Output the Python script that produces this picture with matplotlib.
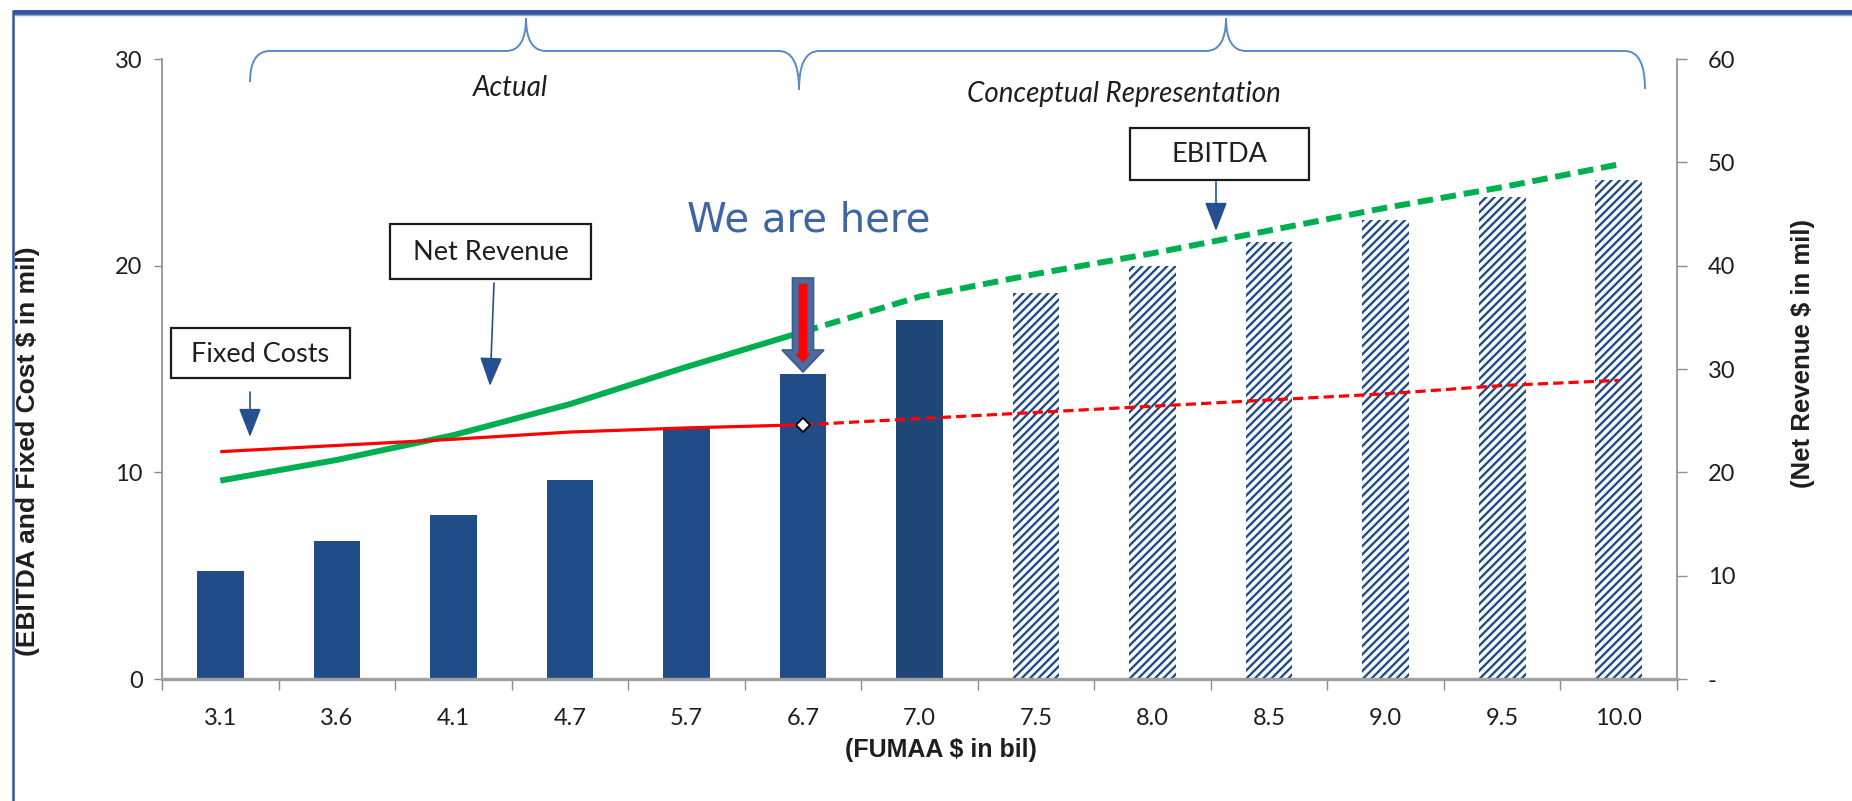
import numpy as np
import matplotlib
matplotlib.use("Agg")
import matplotlib.pyplot as plt
from matplotlib.path import Path
from matplotlib.patches import PathPatch, Rectangle, FancyArrow

# ---------------- data ----------------
categories = ["3.1", "3.6", "4.1", "4.7", "5.7", "6.7", "7.0",
              "7.5", "8.0", "8.5", "9.0", "9.5", "10.0"]
net_revenue = [10.5, 13.4, 15.9, 19.3, 24.4, 29.5, 34.7,
               37.4, 40.0, 42.3, 44.4, 46.6, 48.3]          # right axis (bars)
ebitda = [9.6, 10.6, 11.8, 13.3, 15.1, 16.8, 18.5,
          19.6, 20.6, 21.7, 22.8, 23.8, 24.9]                 # left axis (green)
fixed_costs = [11.0, 11.3, 11.6, 11.95, 12.15, 12.3, 12.6,
               12.9, 13.2, 13.5, 13.8, 14.2, 14.45]           # left axis (red)
left_ticks = [0, 10, 20, 30]
right_ticks = [0, 10, 20, 30, 40, 50, 60]
right_ticklabels = ["-", "10", "20", "30", "40", "50", "60"]
n_actual = 6          # first six categories are actual
here_idx = 5          # "We are here" at 6.7

W, H = 1852, 801
fig = plt.figure(figsize=(W / 100, H / 100), dpi=100)

BAR = "#204C88"
BAR_DARK = "#1F4878"
GREEN = "#00B050"
RED = "#FF0000"
GRAYAX = "#8C8C8C"
TXT = "#1E1E1E"
FONT = ["Lato", "DejaVu Sans"]
BOLD = ["Liberation Sans", "DejaVu Sans"]
TICKSIZE = 17

def fx(px):
    return px / W

def fy(py):
    return 1 - py / H

ax = fig.add_axes([fx(162), fy(679), (1677 - 162) / W, (679 - 59) / H])
ax2 = ax.twinx()
ax.set_zorder(ax2.get_zorder() + 1)
ax.patch.set_visible(False)

x = np.arange(len(categories))

# bars (net revenue, right axis)
bar_colors = [BAR] * n_actual + [BAR_DARK]
ax2.bar(x[:n_actual + 1], net_revenue[:n_actual + 1], width=0.4,
        color=bar_colors, linewidth=0)
plt.rcParams["hatch.linewidth"] = 1.7
ax2.bar(x[n_actual + 1:], net_revenue[n_actual + 1:], width=0.4,
        color="white", edgecolor=BAR, hatch="////", linewidth=0)

# lines (left axis)
ax.plot(x[:here_idx + 1], ebitda[:here_idx + 1], color=GREEN, lw=4.3,
        solid_capstyle="butt", zorder=3)
ax.plot(x[here_idx:], ebitda[here_idx:], color=GREEN, lw=4.3,
        dashes=(2.6, 1.3), zorder=3)
ax.plot(x[:here_idx + 1], fixed_costs[:here_idx + 1], color=RED, lw=2.3,
        solid_capstyle="butt", zorder=3)
ax.plot(x[here_idx:], fixed_costs[here_idx:], color=RED, lw=2.3,
        dashes=(3.2, 1.6), zorder=3)
ax.plot([x[here_idx]], [fixed_costs[here_idx]], marker="D", ms=7,
        mfc="white", mec="black", mew=1.3, zorder=4)

# axes formatting
ax.set_xlim(-0.5, len(categories) - 0.5)
ax.set_ylim(0, 30)
ax2.set_ylim(0, 60)
ax.set_yticks(left_ticks)
ax.set_yticklabels([str(t) for t in left_ticks])
ax2.set_yticks(right_ticks)
ax2.set_yticklabels(right_ticklabels)

ax.set_xticks(np.arange(-0.5, len(categories), 1.0))
ax.set_xticklabels([])
ax.set_xticks(x, minor=True)
ax.set_xticklabels(categories, minor=True)
ax.tick_params(axis="x", which="major", length=8, width=1, color=GRAYAX,
               direction="out")
ax.tick_params(axis="x", which="minor", length=0, pad=21, labelsize=TICKSIZE,
               labelcolor=TXT)
ax.tick_params(axis="y", length=6, width=1, color=GRAYAX, pad=8,
               labelsize=TICKSIZE, labelcolor=TXT)
ax2.tick_params(axis="y", length=7, width=1, color=GRAYAX, pad=15,
                labelsize=TICKSIZE, labelcolor=TXT)
for lab in ax.get_xticklabels(minor=True) + ax.get_yticklabels() + ax2.get_yticklabels():
    lab.set_family(FONT)

for a in (ax, ax2):
    a.spines["top"].set_visible(False)
ax.spines["right"].set_visible(False)
ax2.spines["left"].set_visible(False)
ax2.spines["bottom"].set_visible(False)
ax.spines["left"].set_color(GRAYAX)
ax.spines["left"].set_linewidth(1.2)
ax2.spines["right"].set_color(GRAYAX)
ax2.spines["right"].set_linewidth(1.2)
ax.spines["bottom"].set_color("#A0A0A0")
ax.spines["bottom"].set_linewidth(2.4)

# axis titles
fig.text(fx(28), fy(451), "(EBITDA and Fixed Cost $ in mil)", rotation=90,
         ha="center", va="center", fontsize=19, fontweight="bold",
         family=BOLD, color=TXT)
fig.text(fx(1803), fy(354), "(Net Revenue $ in mil)", rotation=90,
         ha="center", va="center", fontsize=18.5, fontweight="bold",
         family=BOLD, color=TXT)
fig.text(fx(941), fy(750), "(FUMAA $ in bil)", ha="center", va="center",
         fontsize=18, fontweight="bold", family=BOLD, color=TXT)

# ---------------- overlay in pixel coordinates ----------------
ov = fig.add_axes([0, 0, 1, 1])
ov.set_xlim(0, W)
ov.set_ylim(H, 0)
ov.axis("off")
ov.set_zorder(10)
ov.patch.set_visible(False)

# frame
BORDER = "#2E5898"
ov.plot([13, W], [12, 12], color=BORDER, lw=3.5, solid_capstyle="butt")
ov.plot([13, W], [15, 15], color="#8DA9D4", lw=1.0, solid_capstyle="butt")
ov.plot([13, 13], [10, H], color=BORDER, lw=1.8, solid_capstyle="butt")

# braces
def brace(x0, x1, xm, ytip, yflat, y0, y1, r=20):
    verts = [(x0, y0), (x0, yflat), (x0 + r, yflat),
             (xm - r, yflat), (xm, yflat), (xm, ytip),
             (xm, yflat), (xm + r, yflat),
             (x1 - r, yflat), (x1, yflat), (x1, y1)]
    codes = [Path.MOVETO, Path.CURVE3, Path.CURVE3,
             Path.LINETO, Path.CURVE3, Path.CURVE3,
             Path.CURVE3, Path.CURVE3,
             Path.LINETO, Path.CURVE3, Path.CURVE3]
    ov.add_patch(PathPatch(Path(verts, codes), fill=False,
                           edgecolor="#5A8AC6", lw=1.4))

brace(250, 799, 526, 18, 51, 82, 90)
brace(799, 1645, 1226, 18, 51, 90, 89)
ov.text(510, 88, "Actual", ha="center", va="center", fontsize=20,
        style="italic", family=FONT, color=TXT)
ov.text(1124, 94, "Conceptual Representation", ha="center", va="center",
        fontsize=20, style="italic", family=FONT, color=TXT)

# callout boxes
def callout(x0, y0, x1, y1, text):
    ov.add_patch(Rectangle((x0, y0), x1 - x0, y1 - y0, facecolor="white",
                           edgecolor="#1A1A1A", lw=1.6, zorder=5))
    ov.text((x0 + x1) / 2, (y0 + y1) / 2 + 1, text, ha="center",
            va="center", fontsize=19.5, family=FONT, color=TXT, zorder=6)

callout(171, 328, 350, 378, "Fixed Costs")
callout(390, 224, 591, 279, "Net Revenue")
callout(1130, 128, 1309, 180, "EBITDA")

ARROW = "#24508F"
def thin_arrow(xs, ys, xe, ye):
    ov.annotate("", xy=(xe, ye), xytext=(xs, ys),
                arrowprops=dict(arrowstyle="-|>,head_length=0.9,head_width=0.35",
                                color=ARROW, lw=1.2, mutation_scale=20,
                                shrinkA=0, shrinkB=0))

thin_arrow(250, 392, 250, 437)
thin_arrow(494, 283, 490, 386)
thin_arrow(1216, 182, 1216, 231)

# "We are here" block arrow
ov.add_patch(FancyArrow(803, 278, 0, 94, width=21, head_width=42,
                        head_length=22, length_includes_head=True,
                        facecolor="#4A6B9E", edgecolor="#3B5C8E", lw=1.2,
                        zorder=7))
ov.add_patch(FancyArrow(803, 284, 0, 78, width=8, head_width=14,
                        head_length=8, length_includes_head=True,
                        facecolor=RED, edgecolor=RED, lw=0.5, zorder=8))
ov.text(809, 221, "We are here", ha="center", va="center", fontsize=29,
        family=["DejaVu Sans"], color="#3E66A3")

fig.savefig("out.png", dpi=100)
